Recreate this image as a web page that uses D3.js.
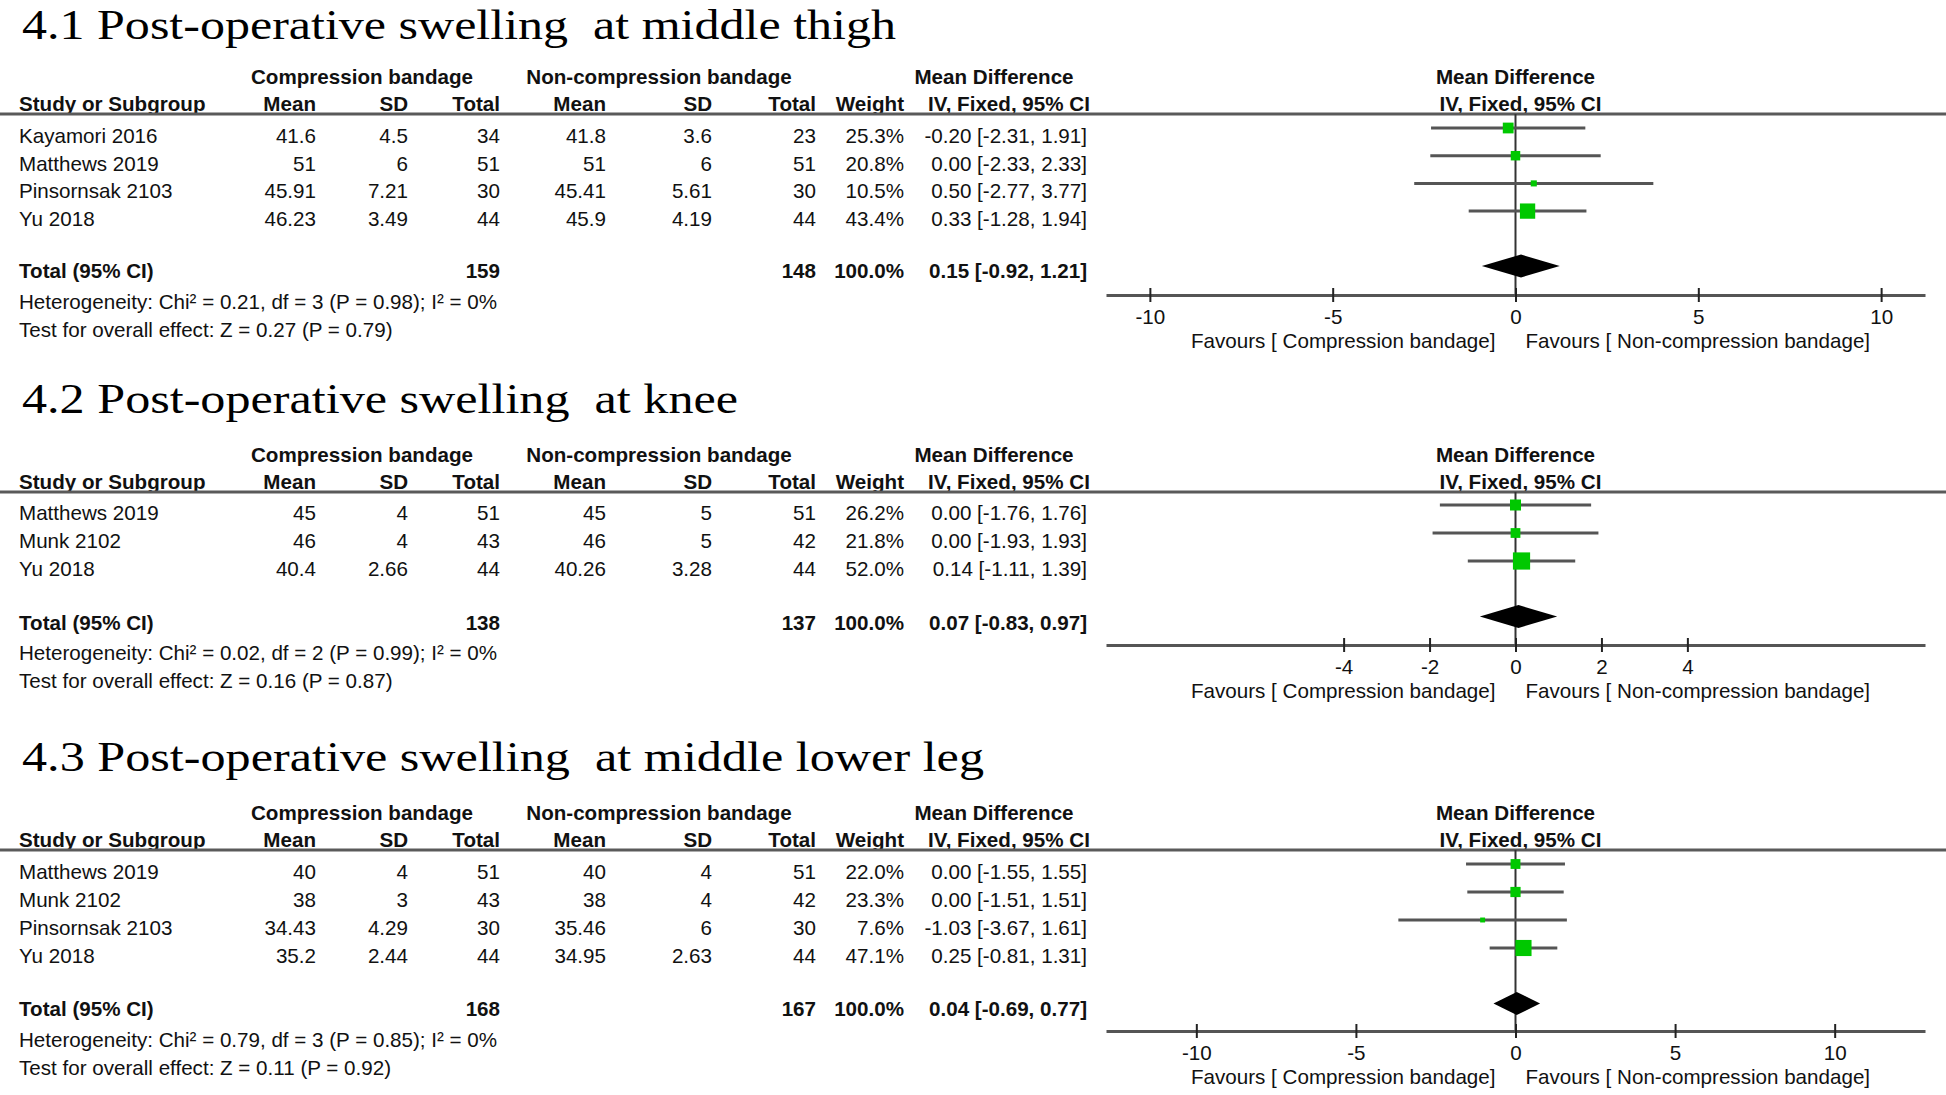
<!DOCTYPE html>
<html>
<head>
<meta charset="utf-8">
<script src="https://cdn.jsdelivr.net/npm/d3@7"></script>
<style>
  html, body { margin: 0; padding: 0; background: #fff; }
  svg { display: block; }
  text { font-family: "Liberation Sans", Arial, sans-serif; fill: #111; }
  .title { font-family: "Liberation Serif", "Times New Roman", serif; fill: #000; white-space: pre; }
</style>
</head>
<body>
<svg id="chart" width="1946" height="1095"></svg>
<script>
// ---------- DATA ----------
// row: [study, compMean, compSD, compTotal, nonMean, nonSD, nonTotal, weight%, MD, lo, hi]
const thighRows = [
  ["Kayamori 2016", 41.6, 4.5, 34, 41.8, 3.6, 23, 25.3, -0.20, -2.31, 1.91],
  ["Matthews 2019", 51, 6, 51, 51, 6, 51, 20.8, 0.00, -2.33, 2.33],
  ["Pinsornsak 2103", 45.91, 7.21, 30, 45.41, 5.61, 30, 10.5, 0.50, -2.77, 3.77],
  ["Yu 2018", 46.23, 3.49, 44, 45.9, 4.19, 44, 43.4, 0.33, -1.28, 1.94]
];
const thighTotal = [159, 148, 100.0, 0.15, -0.92, 1.21];
const thighHet = "Heterogeneity: Chi² = 0.21, df = 3 (P = 0.98); I² = 0%";
const thighTest = "Test for overall effect: Z = 0.27 (P = 0.79)";
const thighTicks = [-10, -5, 0, 5, 10];

const kneeRows = [
  ["Matthews 2019", 45, 4, 51, 45, 5, 51, 26.2, 0.00, -1.76, 1.76],
  ["Munk 2102", 46, 4, 43, 46, 5, 42, 21.8, 0.00, -1.93, 1.93],
  ["Yu 2018", 40.4, 2.66, 44, 40.26, 3.28, 44, 52.0, 0.14, -1.11, 1.39]
];
const kneeTotal = [138, 137, 100.0, 0.07, -0.83, 0.97];
const kneeHet = "Heterogeneity: Chi² = 0.02, df = 2 (P = 0.99); I² = 0%";
const kneeTest = "Test for overall effect: Z = 0.16 (P = 0.87)";
const kneeTicks = [-4, -2, 0, 2, 4];

const legRows = [
  ["Matthews 2019", 40, 4, 51, 40, 4, 51, 22.0, 0.00, -1.55, 1.55],
  ["Munk 2102", 38, 3, 43, 38, 4, 42, 23.3, 0.00, -1.51, 1.51],
  ["Pinsornsak 2103", 34.43, 4.29, 30, 35.46, 6, 30, 7.6, -1.03, -3.67, 1.61],
  ["Yu 2018", 35.2, 2.44, 44, 34.95, 2.63, 44, 47.1, 0.25, -0.81, 1.31]
];
const legTotal = [168, 167, 100.0, 0.04, -0.69, 0.77];
const legHet = "Heterogeneity: Chi² = 0.79, df = 3 (P = 0.85); I² = 0%";
const legTest = "Test for overall effect: Z = 0.11 (P = 0.92)";
const legTicks = [-10, -5, 0, 5, 10];

const titles = [
  "4.1 Post-operative swelling  at middle thigh",
  "4.2 Post-operative swelling  at knee",
  "4.3 Post-operative swelling  at middle lower leg"
];
const groupHeaders = ["Compression bandage", "Non-compression bandage", "Mean Difference", "Mean Difference"];
const colHeaders = ["Study or Subgroup", "Mean", "SD", "Total", "Mean", "SD", "Total", "Weight"];
const ciHeader = "IV, Fixed, 95% CI";
const favours = ["Favours [ Compression bandage]", "Favours [ Non-compression bandage]"];

// ---------- LAYOUT ----------
const svg = d3.select("#chart");
const FS = 20.6;
const panels = [
  { rows: thighRows, total: thighTotal, het: thighHet, test: thighTest, ticks: thighTicks, dom: 11.2,
    title: titles[0], titleW: 874, titleBase: 39, h1: 84, h2: 111, lineY: 114, row0: 143, step: 27.7,
    totalBase: 278, hetBase: 309, testBase: 337, axisY: 295, diamondY: 266 },
  { rows: kneeRows, total: kneeTotal, het: kneeHet, test: kneeTest, ticks: kneeTicks, dom: 9.53,
    title: titles[1], titleW: 716, titleBase: 413, h1: 462, h2: 489, lineY: 492, row0: 520, step: 28,
    totalBase: 630, hetBase: 660, testBase: 688, axisY: 645, diamondY: 616.5 },
  { rows: legRows, total: legTotal, het: legHet, test: legTest, ticks: legTicks, dom: 12.83,
    title: titles[2], titleW: 962, titleBase: 771, h1: 820, h2: 847, lineY: 850, row0: 879, step: 28,
    totalBase: 1016, hetBase: 1047, testBase: 1075, axisY: 1031, diamondY: 1003.5 }
];

// column right-edge positions (name is left aligned)
const colX = [19, 316, 408, 500, 606, 712, 816, 904];
const ciRight = 1087;
const plotLeft = 1106, plotRight = 1925;
const sqSize = d3.scalePow().exponent(0.65).domain([0, 52]).range([0, 17.2]);
const fmt2 = v => v.toFixed(2);
const ciText = (m, lo, hi) => `${fmt2(m)} [${fmt2(lo)}, ${fmt2(hi)}]`;

panels.forEach(p => {
  const g = svg.append("g");
  const x = d3.scaleLinear().domain([-p.dom, p.dom]).range([plotLeft, plotRight]);

  // title
  g.append("text").attr("class", "title")
    .attr("x", 22).attr("y", p.titleBase)
    .attr("font-size", 43)
    .attr("textLength", p.titleW).attr("lengthAdjust", "spacingAndGlyphs")
    .text(p.title);

  // group headers
  const gh = [[362, groupHeaders[0]], [659, groupHeaders[1]], [994, groupHeaders[2]], [x(0), groupHeaders[3]]];
  gh.forEach(([cx, t]) => g.append("text").attr("x", cx).attr("y", p.h1)
    .attr("text-anchor", "middle").attr("font-size", FS).attr("font-weight", "bold").text(t));

  // column headers
  colHeaders.forEach((t, i) => g.append("text").attr("x", colX[i]).attr("y", p.h2)
    .attr("text-anchor", i === 0 ? "start" : "end").attr("font-size", FS).attr("font-weight", "bold").text(t));
  g.append("text").attr("x", 1009).attr("y", p.h2).attr("text-anchor", "middle")
    .attr("font-size", FS).attr("font-weight", "bold").text(ciHeader);
  g.append("text").attr("x", x(0) + 5).attr("y", p.h2).attr("text-anchor", "middle")
    .attr("font-size", FS).attr("font-weight", "bold").text(ciHeader);

  // header line
  g.append("line").attr("x1", 0).attr("x2", 1946).attr("y1", p.lineY).attr("y2", p.lineY)
    .attr("stroke", "#5a5a5a").attr("stroke-width", 3);

  // rows text
  const rowY = i => p.row0 + i * p.step;
  p.rows.forEach((r, i) => {
    const vals = [r[0], r[1], r[2], r[3], r[4], r[5], r[6], r[7].toFixed(1) + "%"];
    vals.forEach((v, j) => g.append("text").attr("x", colX[j]).attr("y", rowY(i))
      .attr("text-anchor", j === 0 ? "start" : "end").attr("font-size", FS).text(v));
    g.append("text").attr("x", ciRight).attr("y", rowY(i)).attr("text-anchor", "end")
      .attr("font-size", FS).text(ciText(r[8], r[9], r[10]));
  });

  // total row
  const tt = p.total;
  [[colX[0], "Total (95% CI)", "start"], [colX[3], tt[0], "end"], [colX[6], tt[1], "end"],
   [colX[7], tt[2].toFixed(1) + "%", "end"], [ciRight, ciText(tt[3], tt[4], tt[5]), "end"]]
    .forEach(([xx, t, a]) => g.append("text").attr("x", xx).attr("y", p.totalBase)
      .attr("text-anchor", a).attr("font-size", FS).attr("font-weight", "bold").text(t));

  g.append("text").attr("x", colX[0]).attr("y", p.hetBase).attr("font-size", FS).text(p.het);
  g.append("text").attr("x", colX[0]).attr("y", p.testBase).attr("font-size", FS).text(p.test);

  // zero line
  g.append("line").attr("x1", x(0)).attr("x2", x(0)).attr("y1", p.lineY).attr("y2", p.axisY)
    .attr("stroke", "#333").attr("stroke-width", 2);

  // CI lines and squares
  p.rows.forEach((r, i) => {
    const cy = rowY(i) - 15;
    g.append("line").attr("x1", x(r[9])).attr("x2", x(r[10])).attr("y1", cy).attr("y2", cy)
      .attr("stroke", "#555").attr("stroke-width", 3);
    const s = sqSize(r[7]);
    g.append("rect").attr("x", x(r[8]) - s / 2).attr("y", cy - s / 2)
      .attr("width", s).attr("height", s).attr("fill", "#00c800");
  });

  // diamond
  const dy = p.diamondY, dh = 11.5;
  g.append("path")
    .attr("d", `M${x(tt[4])},${dy} L${x(tt[3])},${dy - dh} L${x(tt[5])},${dy} L${x(tt[3])},${dy + dh} Z`)
    .attr("fill", "#000");

  // axis
  const ax = g.append("g").attr("transform", `translate(0,${p.axisY})`)
    .call(d3.axisBottom(x).tickValues(p.ticks).tickSize(7).tickSizeOuter(0).tickFormat(d => String(d)));
  ax.select(".domain").attr("stroke", "#555").attr("stroke-width", 3);
  ax.selectAll(".tick line").attr("y1", -7).attr("y2", 7).attr("stroke", "#222").attr("stroke-width", 2);
  ax.selectAll(".tick text").attr("y", 29).attr("dy", null)
    .attr("font-size", FS).attr("font-family", "Liberation Sans, Arial, sans-serif").attr("fill", "#111");

  // favours labels
  g.append("text").attr("x", x(0) - 20).attr("y", p.axisY + 53).attr("text-anchor", "end")
    .attr("font-size", FS).text(favours[0]);
  g.append("text").attr("x", x(0) + 10).attr("y", p.axisY + 53).attr("text-anchor", "start")
    .attr("font-size", FS).text(favours[1]);
});
</script>
</body>
</html>
